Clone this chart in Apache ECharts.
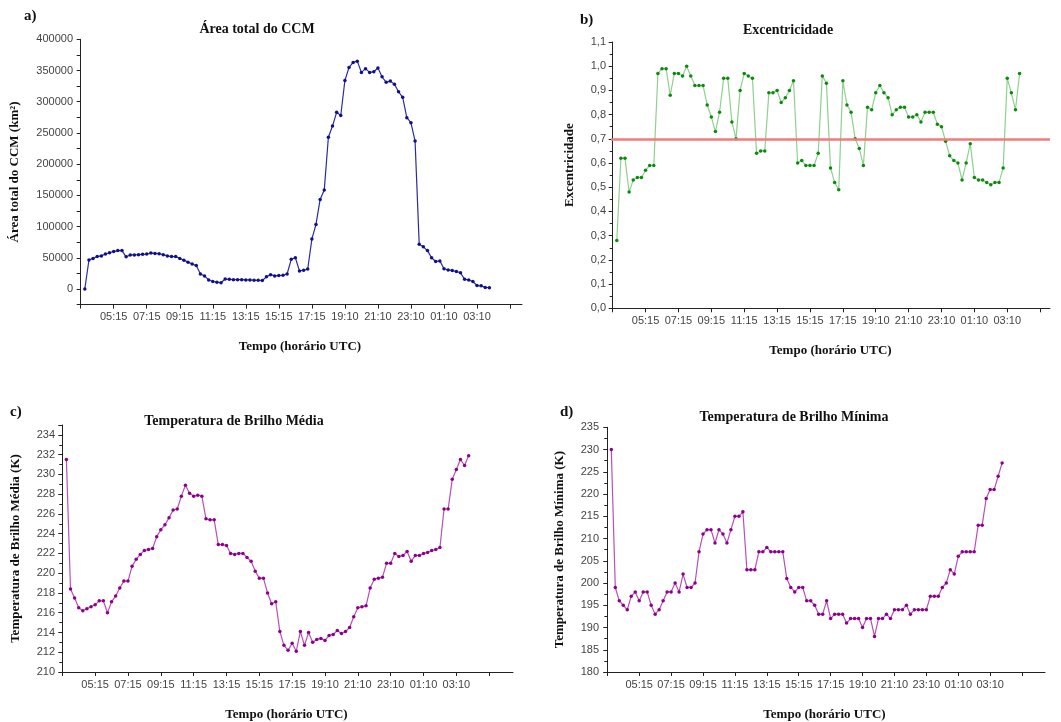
<!DOCTYPE html>
<html>
<head>
<meta charset="utf-8">
<script src="https://cdn.jsdelivr.net/npm/echarts@6/dist/echarts.min.js"></script>
<style>html,body{margin:0;padding:0;background:#fff;}#c{width:1061px;height:722px;}</style>
</head>
<body>
<div id="c"></div>
<script>
// x-axis tick labels (one major tick every 8 samples of 15 min)
const tickLabels = ['', '05:15', '07:15', '09:15', '11:15', '13:15', '15:15', '17:15', '19:10', '21:10', '23:10', '01:10', '03:10', ''];

// a) Área total do CCM (km²)
const area = [0, 46500, 49000, 52000, 53000, 56000, 58000, 60000, 61500, 61500,
  51500, 54500, 54500, 55000, 55500, 56000, 57500, 57000, 56500, 55000,
  53000, 52000, 52000, 49000, 46000, 43000, 40000, 37500, 24000, 21000,
  14500, 12000, 11000, 10000, 16000, 15500, 15000, 15000, 15000, 14500,
  14500, 14000, 14000, 13500, 19500, 23000, 21000, 21500, 22000, 24000,
  47500, 50000, 29000, 30000, 32000, 80000, 103500, 143500, 158500, 243000,
  261000, 283000, 278000, 334000, 355000, 363000, 365000, 347000, 353000, 347000,
  348000, 354000, 340000, 331000, 333000, 328000, 316000, 307000, 274500, 266500,
  237000, 71500, 67500, 61500, 50000, 44000, 45000, 32500, 30500, 29500,
  28000, 26000, 15500, 14500, 12000, 5500, 5000, 2500, 2000];

// b) Excentricidade
const excentricidade = [0.28, 0.62, 0.62, 0.48, 0.53, 0.54, 0.54, 0.57, 0.59, 0.59,
  0.97, 0.99, 0.99, 0.88, 0.97, 0.97, 0.96, 1.00, 0.96, 0.92,
  0.92, 0.92, 0.84, 0.79, 0.73, 0.81, 0.95, 0.95, 0.77, 0.70,
  0.90, 0.97, 0.96, 0.95, 0.64, 0.65, 0.65, 0.89, 0.89, 0.90,
  0.85, 0.87, 0.90, 0.94, 0.60, 0.61, 0.59, 0.59, 0.59, 0.64,
  0.96, 0.93, 0.58, 0.52, 0.49, 0.94, 0.84, 0.81, 0.70, 0.66,
  0.59, 0.83, 0.82, 0.89, 0.92, 0.89, 0.87, 0.80, 0.82, 0.83,
  0.83, 0.79, 0.79, 0.80, 0.77, 0.81, 0.81, 0.81, 0.76, 0.75,
  0.69, 0.63, 0.61, 0.60, 0.53, 0.60, 0.68, 0.54, 0.53, 0.53,
  0.52, 0.51, 0.52, 0.52, 0.58, 0.95, 0.89, 0.82, 0.97];
const limiarExc = 0.7;

// c) Temperatura de Brilho Média (K)
const tbMedia = [231.5, 218.4, 217.5, 216.5, 216.2, 216.4, 216.6, 216.8, 217.2, 217.2,
  216.0, 217.1, 217.7, 218.5, 219.2, 219.2, 220.7, 221.4, 221.9, 222.3,
  222.4, 222.5, 223.7, 224.4, 224.9, 225.6, 226.4, 226.5, 227.8, 228.9,
  228.1, 227.8, 227.9, 227.8, 225.5, 225.4, 225.4, 222.9, 222.9, 222.8,
  222.0, 221.9, 222.0, 222.0, 221.6, 221.2, 220.2, 219.5, 219.5, 218.0,
  216.9, 217.1, 214.1, 212.7, 212.2, 212.9, 212.1, 214.1, 212.7, 214.0,
  213.0, 213.3, 213.4, 213.2, 213.7, 213.8, 214.2, 213.9, 214.1, 214.5,
  215.6, 216.5, 216.6, 216.7, 218.5, 219.4, 219.5, 219.6, 221.0, 221.0,
  222.0, 221.7, 221.8, 222.2, 221.2, 221.8, 221.8, 222.0, 222.1, 222.3,
  222.4, 222.6, 226.5, 226.5, 229.5, 230.5, 231.5, 230.9, 231.9];

// d) Temperatura de Brilho Mínima (K)
const tbMinima = [230, 199, 196, 195, 194, 197, 198, 196, 198, 198,
  195, 193, 194, 196, 198, 198, 200, 198, 202, 199,
  199, 200, 207, 211, 212, 212, 209, 212, 211, 209,
  212, 215, 215, 216, 203, 203, 203, 207, 207, 208,
  207, 207, 207, 207, 201, 199, 198, 199, 199, 196,
  196, 195, 193, 193, 196, 192, 193, 193, 193, 191,
  192, 192, 192, 190, 192, 192, 188, 192, 192, 193,
  192, 194, 194, 194, 195, 193, 194, 194, 194, 194,
  197, 197, 197, 199, 200, 203, 202, 206, 207, 207,
  207, 207, 213, 213, 219, 221, 221, 224, 227];

const toXY = arr => arr.map((v, i) => [i + 1, v]);
const tickPos = tickLabels.map((_, i) => i * 8);
const labelPos = tickPos.slice(1, -1);

const serif = '"Liberation Serif", "DejaVu Serif", serif';
const sans = '"Liberation Sans", Arial, sans-serif';
const axisCol = '#222';

function xAx(gi, min, max) {
  return {
    type: 'value', gridIndex: gi, min: min, max: max,
    name: 'Tempo (horário UTC)', nameLocation: 'middle', nameGap: 36,
    nameTextStyle: { fontFamily: serif, fontWeight: 'bold', fontSize: 13, color: '#111' },
    axisLine: { onZero: false, lineStyle: { color: axisCol, width: 1 } },
    axisTick: { show: true, length: 4, customValues: tickPos, lineStyle: { color: axisCol } },
    axisLabel: { customValues: labelPos, fontFamily: sans, fontSize: 11, color: '#444', margin: 7,
      formatter: v => tickLabels[Math.round(v / 8)] || '' },
    splitLine: { show: false }
  };
}
function yAx(gi, o) {
  return Object.assign({
    type: 'value', gridIndex: gi, nameLocation: 'middle',
    nameTextStyle: { fontFamily: serif, fontWeight: 'bold', fontSize: 13, color: '#111' },
    axisLine: { show: true, lineStyle: { color: axisCol, width: 1 } },
    axisTick: { show: true, length: 4, lineStyle: { color: axisCol } },
    minorTick: { show: true, splitNumber: 2, length: 3, lineStyle: { color: axisCol } },
    axisLabel: { fontFamily: sans, fontSize: 11, color: '#444', margin: 5 },
    splitLine: { show: false }, minorSplitLine: { show: false }
  }, o);
}
function ser(gi, data, lineCol, dotCol, extra) {
  return Object.assign({
    type: 'line', xAxisIndex: gi, yAxisIndex: gi, data: toXY(data),
    symbol: 'circle', symbolSize: 3.5, showSymbol: true,
    lineStyle: { color: lineCol, width: 1.2 }, itemStyle: { color: dotCol },
    animation: false, silent: true
  }, extra || {});
}

const chart = echarts.init(document.getElementById('c'), null, { renderer: 'canvas' });
chart.setOption({
  backgroundColor: '#fff',
  animation: false,
  title: [
    { text: 'Área total do CCM', left: 252, top: 17, textAlign: 'center', textStyle: { fontFamily: serif, fontWeight: 'bold', fontSize: 14, color: '#111' } },
    { text: 'Excentricidade', left: 783, top: 18, textAlign: 'center', textStyle: { fontFamily: serif, fontWeight: 'bold', fontSize: 14, color: '#111' } },
    { text: 'Temperatura de Brilho Média', left: 229, top: 409, textAlign: 'center', textStyle: { fontFamily: serif, fontWeight: 'bold', fontSize: 14, color: '#111' } },
    { text: 'Temperatura de Brilho Mínima', left: 789, top: 405, textAlign: 'center', textStyle: { fontFamily: serif, fontWeight: 'bold', fontSize: 14, color: '#111' } }
  ],
  graphic: [
    { type: 'text', left: 24, top: 9, style: { text: 'a)', font: 'bold 15px ' + serif, fill: '#111' } },
    { type: 'text', left: 580, top: 13, style: { text: 'b)', font: 'bold 15px ' + serif, fill: '#111' } },
    { type: 'text', left: 10, top: 405, style: { text: 'c)', font: 'bold 15px ' + serif, fill: '#111' } },
    { type: 'text', left: 560, top: 405, style: { text: 'd)', font: 'bold 15px ' + serif, fill: '#111' } }
  ],
  grid: [
    { left: 78, top: 39.3, width: 444, height: 265.3 },
    { left: 611, top: 42, width: 439, height: 266.3 },
    { left: 60, top: 425, width: 453, height: 253.3 },
    { left: 604, top: 427.3, width: 441, height: 250 }
  ],
  xAxis: [
    xAx(0, -0.65, 106.9),
    xAx(1, -0.41, 106.4),
    xAx(2, -0.56, 109.8),
    xAx(3, -0.83, 109.75)
  ],
  yAxis: [
    yAx(0, { min: -25000, max: 400000, interval: 25000, name: 'Área total do CCM (km²)', nameGap: 57,
      minorTick: { show: false },
      axisLabel: { fontFamily: sans, fontSize: 11, color: '#444', margin: 5,
        formatter: v => (v >= 0 && v % 50000 === 0) ? String(v) : '' } }),
    yAx(1, { min: 0, max: 1.1, interval: 0.1, name: 'Excentricidade', nameGap: 35,
      nameTextStyle: { fontFamily: serif, fontWeight: 'bold', fontSize: 13, color: '#111', padding: [0, 0, 0, 20] },
      axisLabel: { fontFamily: sans, fontSize: 11, color: '#444', margin: 5,
        formatter: v => v.toFixed(1).replace('.', ',') } }),
    yAx(2, { min: 210, max: 235, interval: 2, name: 'Temperatura de Brilho Média (K)', nameGap: 38 }),
    yAx(3, { min: 180, max: 235, interval: 5, name: 'Temperatura de Brilho Mínima (K)', nameGap: 38 })
  ],
  series: [
    ser(0, area, '#2b2ba0', '#10108a'),
    ser(1, excentricidade, '#8fd08f', '#0a8a0a', {
      markLine: { silent: true, symbol: 'none', label: { show: false },
        lineStyle: { color: '#f27a7a', width: 2.5, type: 'solid' },
        data: [{ yAxis: limiarExc }] }
    }),
    ser(2, tbMedia, '#b850b8', '#8a008a'),
    ser(3, tbMinima, '#b850b8', '#8a008a')
  ]
});
</script>
</body>
</html>
